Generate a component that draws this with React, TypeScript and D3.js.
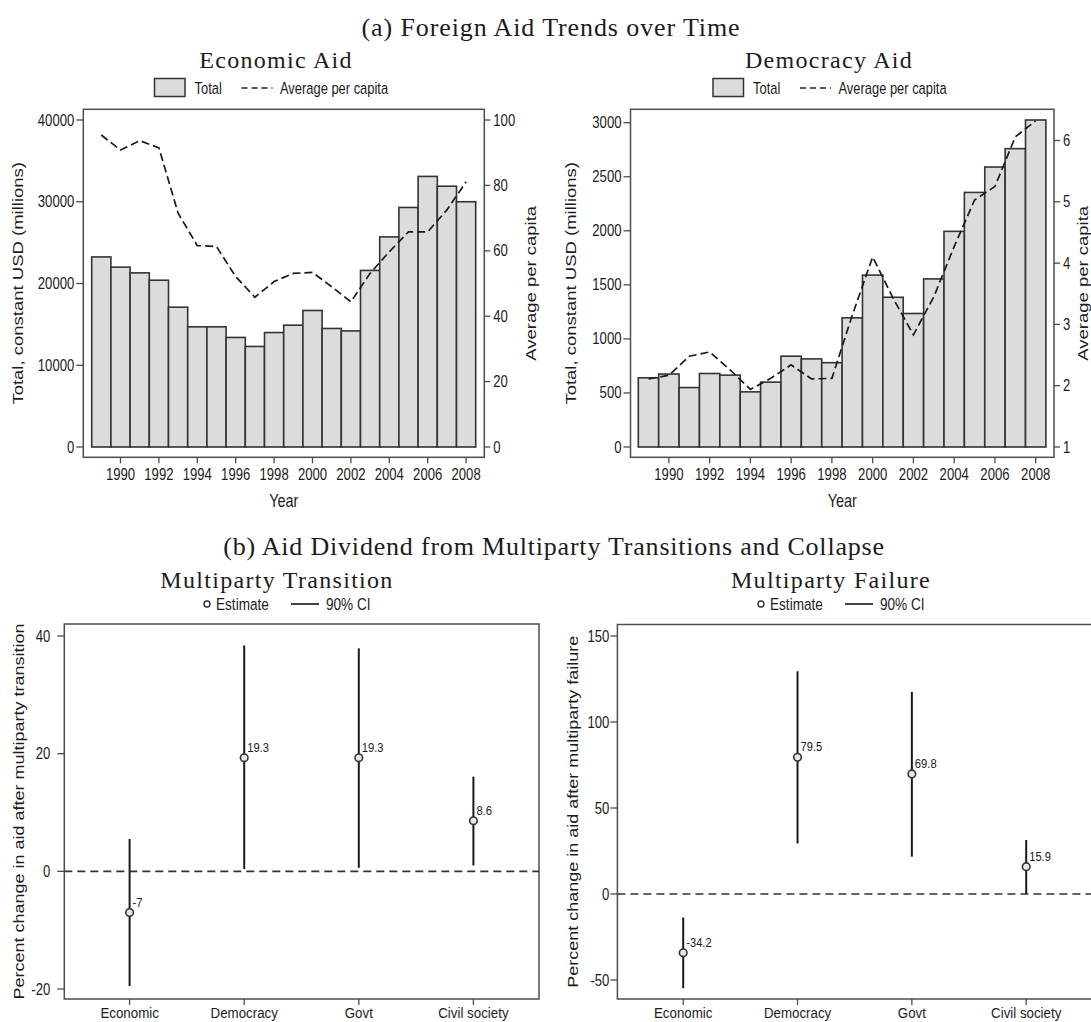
import * as d3 from 'd3';

// ---- data ----
const years = [1989, 1990, 1991, 1992, 1993, 1994, 1995, 1996, 1997, 1998, 1999, 2000, 2001, 2002, 2003, 2004, 2005, 2006, 2007, 2008];
const yearTicks = [1990, 1992, 1994, 1996, 1998, 2000, 2002, 2004, 2006, 2008];

const econTotal = [23250, 22000, 21300, 20400, 17100, 14700, 14700, 13400, 12300, 14000, 14900, 16700, 14500, 14200, 21600, 25700, 29300, 33100, 31900, 30000];
const econPerCapita = [95.4, 90.8, 93.7, 91.5, 71.5, 61.6, 61.3, 52.1, 45.8, 50.6, 53.1, 53.4, 49.0, 44.4, 53.1, 59.7, 65.8, 65.8, 72.5, 81.1];
const econLeftTicks = [0, 10000, 20000, 30000, 40000];
const econRightTicks = [0, 20, 40, 60, 80, 100];

const demTotal = [640, 675, 550, 680, 665, 510, 600, 840, 815, 780, 1195, 1590, 1385, 1235, 1555, 1995, 2355, 2590, 2760, 3025];
const demPerCapita = [2.11, 2.17, 2.48, 2.55, 2.26, 1.94, 2.12, 2.34, 2.11, 2.12, 3.15, 4.1, 3.43, 2.83, 3.45, 4.27, 5.03, 5.25, 6.06, 6.32];
const demLeftTicks = [0, 500, 1000, 1500, 2000, 2500, 3000];
const demRightTicks = [1, 2, 3, 4, 5, 6];

const aidTypes = ['Economic', 'Democracy', 'Govt', 'Civil society'];
const transEst = [-7, 19.3, 19.3, 8.6];
const transLo = [-19.5, 0.4, 0.6, 1.0];
const transHi = [5.5, 38.4, 37.9, 16.1];
const transTicks = [-20, 0, 20, 40];

const failEst = [-34.2, 79.5, 69.8, 15.9];
const failLo = [-54.8, 29.4, 21.7, 0];
const failHi = [-13.7, 129.5, 117.5, 31.4];
const failTicks = [-50, 0, 50, 100, 150];

const SANS = "'Liberation Sans', Arial, Helvetica, sans-serif";
const SERIF = "'Liberation Serif', 'Times New Roman', serif";
const INK = '#1c1c1c';
const FRAME = '#4d4d4d';

// text squeezed horizontally, like the narrow Helvetica of the original
function Txt({ x, y, text, size = 16, sx = 0.82, anchor = 'start', rot = false, family = SANS, ls = 0 }: any) {
  const transform = rot
    ? `translate(${x},${y}) rotate(-90) scale(1,${sx})`
    : `translate(${x},${y}) scale(${sx},1)`;
  return (
    <text transform={transform} fontSize={size} fontFamily={family} textAnchor={anchor} fill={INK}
      letterSpacing={ls || undefined}>{text}</text>
  );
}

function TrendPanel(p: any) {
  const f = p.frame;
  const x = d3.scaleLinear().domain([years[0], years[years.length - 1]]).range(p.xRange);
  const bw = x(1990) - x(1989);
  const yL = d3.scaleLinear().domain(p.leftDomain).range(p.leftRange);
  const yR = d3.scaleLinear().domain(p.rightDomain).range(p.rightRange);
  const line = d3.line<number>().x((_, i) => x(years[i])).y((d) => yR(d));
  const cx = (f.l + f.r) / 2;
  const lg = p.legendX;

  return (
    <g>
      <Txt x={p.titleX} y={68} text={p.title} size={24} sx={1} anchor="middle" family={SERIF} ls={1.3} />
      <rect x={lg} y={78.5} width={30.5} height={18} fill="#dcdcdc" stroke="#333" strokeWidth={1.5} />
      <Txt x={lg + 40} y={94} text="Total" size={17} sx={0.76} />
      <line x1={lg + 87} x2={lg + 118} y1={88} y2={88} stroke="#222" strokeWidth={1.6} strokeDasharray="6,4" />
      <Txt x={lg + 125.5} y={94} text="Average per capita" size={17} sx={0.76} />

      <rect x={f.l} y={f.t} width={f.r - f.l} height={f.b - f.t} fill="white" stroke={FRAME} strokeWidth={1.5} />

      {p.total.map((v: number, i: number) => (
        <rect key={i} x={x(years[i]) - bw / 2} y={yL(v)} width={bw} height={yL(0) - yL(v)}
          fill="#dcdcdc" stroke="#333" strokeWidth={1.6} />
      ))}
      <path d={line(p.perCapita) || ''} fill="none" stroke="#1a1a1a" strokeWidth={1.7} strokeDasharray="8,4" />

      {p.leftTicks.map((t: number) => (
        <g key={'l' + t}>
          <line x1={f.l - 7} x2={f.l} y1={yL(t)} y2={yL(t)} stroke={FRAME} strokeWidth={1.3} />
          <Txt x={f.l - 9} y={yL(t) + 5.5} text={String(t)} anchor="end" />
        </g>
      ))}
      {p.rightTicks.map((t: number) => (
        <g key={'r' + t}>
          <line x1={f.r} x2={f.r + 6} y1={yR(t)} y2={yR(t)} stroke={FRAME} strokeWidth={1.3} />
          <Txt x={f.r + 9} y={yR(t) + 5.5} text={String(t)} />
        </g>
      ))}
      {yearTicks.map((t) => (
        <g key={'x' + t}>
          <line x1={x(t)} x2={x(t)} y1={f.b} y2={f.b + 6} stroke={FRAME} strokeWidth={1.3} />
          <Txt x={x(t)} y={480} text={String(t)} anchor="middle" />
        </g>
      ))}
      <Txt x={cx} y={506.5} text="Year" size={18.5} sx={0.78} anchor="middle" />
      <Txt x={p.leftLabelX} y={(f.t + f.b) / 2} text="Total, constant USD (millions)" size={18.5} sx={0.8} anchor="middle" rot />
      <Txt x={p.rightLabelX} y={(f.t + f.b) / 2} text="Average per capita" size={18.5} sx={0.8} anchor="middle" rot />
    </g>
  );
}

function EffectPanel(p: any) {
  const f = p.frame;
  const x = d3.scalePoint<string>().domain(aidTypes).range(p.xRange);
  const y = d3.scaleLinear().domain(p.yDomain).range(p.yRange);
  const lg = p.legendX;

  return (
    <g>
      <Txt x={p.titleX} y={587.5} text={p.title} size={24} sx={1} anchor="middle" family={SERIF} ls={1.3} />
      <circle cx={lg} cy={604} r={3} fill="none" stroke="#333" strokeWidth={1.4} />
      <Txt x={lg + 9} y={610} text="Estimate" size={17} sx={0.8} />
      <line x1={lg + 84} x2={lg + 112} y1={604} y2={604} stroke="#222" strokeWidth={1.7} />
      <Txt x={lg + 119} y={610} text="90% CI" size={17} sx={0.8} />

      <rect x={f.l} y={f.t} width={f.r - f.l} height={f.b - f.t} fill="white" stroke={FRAME} strokeWidth={1.5} />
      <line x1={f.l} x2={f.r} y1={y(0)} y2={y(0)} stroke="#333" strokeWidth={1.7} strokeDasharray="8,5" />

      {aidTypes.map((c, i) => (
        <g key={c}>
          <line x1={x(c)} x2={x(c)} y1={y(p.lo[i])} y2={y(p.hi[i])} stroke="#1a1a1a" strokeWidth={2} />
          <circle cx={x(c)} cy={y(p.est[i])} r={3.8} fill="#e8e8e8" stroke="#333" strokeWidth={1.6} />
          <Txt x={(x(c) || 0) + 3} y={y(p.est[i]) - 6} text={String(p.est[i])} size={13} sx={0.86} />
          <line x1={x(c)} x2={x(c)} y1={f.b} y2={f.b + 6} stroke={FRAME} strokeWidth={1.3} />
          <Txt x={x(c)} y={1018} text={c} anchor="middle" size={15.5} sx={0.86} />
        </g>
      ))}
      {p.ticks.map((t: number) => (
        <g key={t}>
          <line x1={f.l - 7} x2={f.l} y1={y(t)} y2={y(t)} stroke={FRAME} strokeWidth={1.3} />
          <Txt x={f.l - p.tickGap} y={y(t) + 5.5} text={String(t)} anchor="end" />
        </g>
      ))}
      <Txt x={p.labelX} y={(f.t + f.b) / 2} text={p.yLabel} size={18} sx={0.8} anchor="middle" rot />
    </g>
  );
}

export default function App() {
  return (
    <svg width={1091} height={1022} style={{ position: 'absolute', left: 0, top: 0, background: 'white' }}>
      <rect width={1091} height={1022} fill="white" />
      <Txt x={551} y={36} text="(a) Foreign Aid Trends over Time" size={26} sx={1} anchor="middle" family={SERIF} ls={0.9} />
      <Txt x={554} y={555} text="(b) Aid Dividend from Multiparty Transitions and Collapse" size={26} sx={1} anchor="middle" family={SERIF} ls={0.8} />

      <TrendPanel
        title="Economic Aid" titleX={276} legendX={154.5}
        frame={{ l: 83.3, r: 484.3, t: 109.3, b: 457.3 }}
        xRange={[101.3, 466.1]}
        total={econTotal} perCapita={econPerCapita}
        leftDomain={[0, 40000]} leftRange={[447, 120]}
        rightDomain={[0, 100]} rightRange={[447, 120]}
        leftTicks={econLeftTicks} rightTicks={econRightTicks}
        leftLabelX={23} rightLabelX={536}
      />
      <TrendPanel
        title="Democracy Aid" titleX={829} legendX={713}
        frame={{ l: 630.5, r: 1054, t: 109.3, b: 457.3 }}
        xRange={[648.5, 1035.7]}
        total={demTotal} perCapita={demPerCapita}
        leftDomain={[0, 3000]} leftRange={[447, 122.7]}
        rightDomain={[1, 6]} rightRange={[447, 140.5]}
        leftTicks={demLeftTicks} rightTicks={demRightTicks}
        leftLabelX={576} rightLabelX={1088}
      />

      <EffectPanel
        title="Multiparty Transition" titleX={277} legendX={207}
        frame={{ l: 64.3, r: 539, t: 624, b: 999 }}
        xRange={[129.6, 473.4]}
        yDomain={[-20, 40]} yRange={[989, 636]}
        est={transEst} lo={transLo} hi={transHi} ticks={transTicks} tickGap={14}
        yLabel="Percent change in aid after multiparty transition" labelX={24}
      />
      <EffectPanel
        title="Multiparty Failure" titleX={831} legendX={761}
        frame={{ l: 617.4, r: 1093, t: 624.5, b: 999 }}
        xRange={[683.2, 1026.2]}
        yDomain={[-50, 150]} yRange={[980, 636]}
        est={failEst} lo={failLo} hi={failHi} ticks={failTicks} tickGap={8}
        yLabel="Percent change in aid after multiparty failure" labelX={578}
      />
    </svg>
  );
}
